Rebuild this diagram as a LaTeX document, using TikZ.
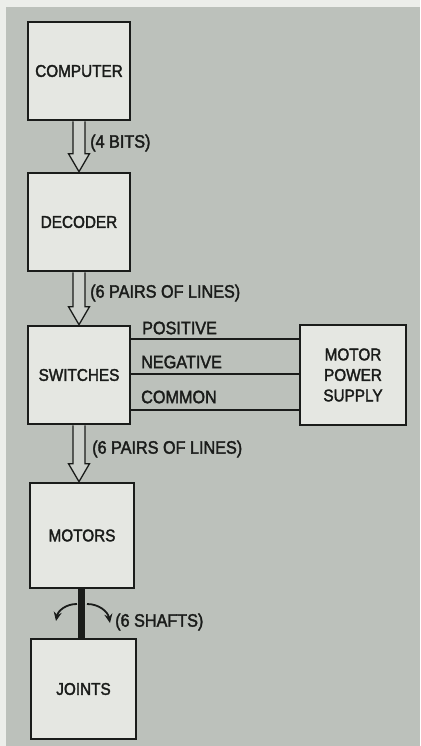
\documentclass[tikz,border=0pt]{standalone}
\usepackage{fontspec}
\setmainfont{Liberation Sans}[FakeStretch=0.9, FakeBold=2]
\usetikzlibrary{arrows.meta,calc}
\definecolor{bgpanel}{RGB}{188,193,187}
\definecolor{boxfill}{RGB}{229,231,226}
\definecolor{paper}{RGB}{236,238,234}
\definecolor{ink}{RGB}{26,28,26}
\tikzset{
  blk/.style={draw=ink, line width=2.6pt, fill=boxfill, minimum width=102pt, minimum height=98pt, inner sep=0pt, font=\fontsize{17}{20.5}\selectfont, text=ink, align=center},
  lbl/.style={font=\fontsize{18}{20}\selectfont, text=ink, inner sep=0pt, anchor=west},
  busarrow/.style={draw=ink, line width=1.3pt, fill=bgpanel!60!boxfill, line join=miter},
  wire/.style={draw=ink, line width=1.3pt},
  shaft/.style={draw=ink, line width=7pt},
  rot/.style={draw=ink, line width=1.8pt, -{Stealth[length=9pt,width=8pt]}}
}
\newcommand{\hollowarrow}[2]{% from coordinate #1 (top) to coordinate #2 (bottom)
  \path let \p1=(#1), \p2=(#2) in
    [busarrow] (\x1-6pt,\y1) -- (\x1-6pt,\y2+18pt) -- (\x1-10.5pt,\y2+18pt) -- (\x1,\y2)
      -- (\x1+10.5pt,\y2+18pt) -- (\x1+6pt,\y2+18pt) -- (\x1+6pt,\y1) ;}
\begin{document}
\begin{tikzpicture}[x=1pt,y=-1pt]
\useasboundingbox (0,0) rectangle (420,746);
\fill[paper] (0,0) rectangle (420,746);
\fill[bgpanel] (6,7) rectangle (420,746);

\node[blk] (comp) at (79,71) {COMPUTER};
\node[blk] (dec) at (79,222) {DECODER};
\node[blk] (sw) at (79,375) {SWITCHES};
\node[blk, minimum width=106pt, minimum height=100pt] (mps) at (353,375) {MOTOR\\POWER\\SUPPLY};
\node[blk, minimum width=104pt, minimum height=105pt] (mot) at (82,535.5) {MOTORS};
\node[blk, minimum width=105pt, minimum height=100pt] (jnt) at (83.5,689) {JOINTS};

% hollow bus arrows
\coordinate (a1s) at (comp.south);
\coordinate (a1e) at (dec.north);
\hollowarrow{a1s}{a1e}
\coordinate (a2s) at (dec.south);
\coordinate (a2e) at (sw.north);
\hollowarrow{a2s}{a2e}
\coordinate (a3s) at (sw.south);
\coordinate (a3e) at ($(mot.north)+(-3pt,0)$);
\hollowarrow{a3s}{a3e}

\node[lbl] (l1) at (90,143) {(4 BITS)};
\node[lbl] (l2) at (90,293) {(6 PAIRS OF LINES)};
\node[lbl] (l3) at (92,449) {(6 PAIRS OF LINES)};

% power wires
\draw[wire] ([yshift=-35pt]sw.east) -- ([yshift=-35pt]sw.east -| mps.west);
\draw[wire] ([yshift=1pt]sw.east) -- ([yshift=1pt]sw.east -| mps.west);
\draw[wire] ([yshift=36pt]sw.east) -- ([yshift=36pt]sw.east -| mps.west);
\node[lbl] (pos) at (142,328) {POSITIVE};
\node[lbl] (neg) at (141,362) {NEGATIVE};
\node[lbl] (com) at (141,397) {COMMON};

% shaft
\coordinate (shtop) at (81.5,588);
\draw[rot] (77,604) to[bend right=40] (56,621);
\draw[rot] (87,604) to[bend left=40] (110,623);
\draw[shaft] (mot.south -| shtop) -- (jnt.north -| shtop);
\node[lbl] (l4) at (115,622) {(6 SHAFTS)};
\end{tikzpicture}
\end{document}
